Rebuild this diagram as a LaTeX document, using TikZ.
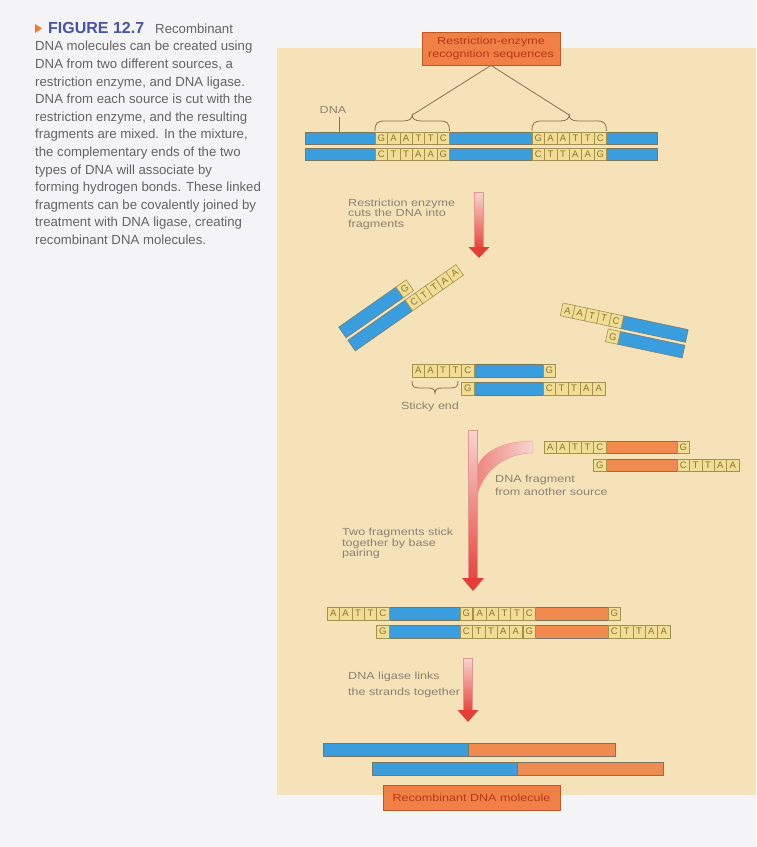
\documentclass[tikz,border=0pt]{standalone}
\usepackage{fontspec}
\setmainfont{Liberation Sans}
\newfontfamily\lblfont[FakeStretch=1.22]{Liberation Sans}
\definecolor{bg}{RGB}{244,244,246}
\definecolor{panel}{RGB}{246,226,185}
\definecolor{dnablue}{RGB}{58,158,222}
\definecolor{dnaorange}{RGB}{240,138,78}
\definecolor{strandedge}{RGB}{120,120,95}
\definecolor{cellfill}{RGB}{242,221,150}
\definecolor{celledge}{RGB}{165,145,75}
\definecolor{celltext}{RGB}{140,118,50}
\definecolor{boxfill}{RGB}{240,128,70}
\definecolor{boxedge}{RGB}{185,90,45}
\definecolor{boxtext}{RGB}{185,55,25}
\definecolor{lbltext}{RGB}{140,130,115}
\definecolor{captext}{RGB}{100,100,100}
\definecolor{figblue}{RGB}{70,85,165}
\definecolor{marker}{RGB}{240,120,50}
\definecolor{arrtop}{RGB}{248,212,208}
\definecolor{arrbot}{RGB}{232,70,60}
\definecolor{arrhead}{RGB}{228,62,52}
\definecolor{arredge}{RGB}{225,150,150}
\definecolor{bracecol}{RGB}{130,115,80}
\tikzset{
  cell/.style={draw=celledge, fill=cellfill, line width=0.6pt, inner sep=0pt,
    minimum width=12.4pt, text=celltext, font=\fontsize{9.5}{10}\selectfont},
  bluestrand/.style={draw=strandedge, fill=dnablue, line width=0.5pt},
  orangestrand/.style={draw=strandedge, fill=dnaorange, line width=0.5pt},
  lbl/.style={inner sep=0pt, text=lbltext, align=left,
    font=\lblfont\fontsize{10.3}{10.5}\selectfont},
  tagbox/.style={draw=boxedge, fill=boxfill, text=boxtext, line width=0.8pt,
    inner sep=0pt, align=center, font=\lblfont\fontsize{10.3}{13}\selectfont},
  bracket/.style={draw=bracecol, line width=0.8pt},
  shaft/.style={top color=arrtop, bottom color=arrbot, draw=arredge, line width=0.4pt},
}
\newcommand\dnacells[5]{%
  \foreach \lt [count=\i from 0] in {#5} {
    \node[cell, minimum height=#4pt] (#1\i) at ({#2+\i*12.4+6.2},{#3+#4/2}) {\lt};
  }}
\begin{document}
\begin{tikzpicture}[x=1pt,y=-1pt]
\useasboundingbox (0,0) rectangle (756,847);
\fill[bg] (0,0) rectangle (756,847);
\fill[panel] (277,48) rectangle (756,795);

% caption
\fill[marker] (35,24) -- (42,28.5) -- (35,33) -- cycle;
\node[anchor=north west, align=left, inner sep=0pt, text=captext,
  font=\fontsize{13.2}{17.6}\selectfont] (caption) at (35,22) {%
\hspace*{13pt}{\fontsize{16}{17.6}\selectfont\bfseries\color{figblue}FIGURE 12.7}\hspace{11pt}Recombinant\\
DNA molecules can be created using\\
DNA from two different sources, a\\
restriction enzyme, and DNA ligase.\\
DNA from each source is cut with the\\
restriction enzyme, and the resulting\\
fragments are mixed. In the mixture,\\
the complementary ends of the two\\
types of DNA will associate by\\
forming hydrogen bonds. These linked\\
fragments can be covalently joined by\\
treatment with DNA ligase, creating\\
recombinant DNA molecules.};

% top box and original DNA
\node[tagbox, minimum width=138pt, minimum height=33pt] (rebox) at (491,48.5)
  {Restriction-enzyme\\recognition sequences};
\draw[bluestrand] (305,132) rectangle (657,144);
\draw[bluestrand] (305,148) rectangle (657,160);
\dnacells{ta}{375}{132}{12}{G,A,A,T,T,C}
\dnacells{tb}{375}{148}{12}{C,T,T,A,A,G}
\dnacells{tc}{532}{132}{12}{G,A,A,T,T,C}
\dnacells{td}{532}{148}{12}{C,T,T,A,A,G}
\coordinate (bl) at (412.2,115);
\coordinate (br) at (569.2,115);
\draw[bracket] (375,131) .. controls (375,123) and (377,121) .. (385,121) -- (403,121)
  .. controls (409,121) and (412.2,119) .. (bl) .. controls (412.2,119) and (415.4,121) .. (421.4,121)
  -- (439.4,121) .. controls (447.4,121) and (449.4,123) .. (449.4,131);
\draw[bracket] (532,131) .. controls (532,123) and (534,121) .. (542,121) -- (560,121)
  .. controls (566,121) and (569.2,119) .. (br) .. controls (569.2,119) and (572.4,121) .. (578.4,121)
  -- (596.4,121) .. controls (604.4,121) and (606.4,123) .. (606.4,131);
\draw[bracket] (rebox.south) -- (bl);
\draw[bracket] (rebox.south) -- (br);
\node[lbl] (dnalbl) at (333,110) {DNA};
\coordinate (dnaend) at (339,132);
\draw[bracket, line width=0.6pt] ([xshift=6pt,yshift=-3pt]dnalbl.south) -- (dnaend);

% arrow 1
\shade[shaft] (474.5,192) rectangle (483.5,248);
\fill[arrhead] (468.5,247) -- (489.5,247) -- (479,258) -- cycle;
\node[lbl, anchor=north west] (lbl1) at (348,198.5)
  {Restriction enzyme\\cuts the DNA into\\fragments};

% left tilted fragment
\begin{scope}[shift={(396,287)}, rotate=35, transform shape]
  \draw[bluestrand] (-70,0) rectangle (0,13);
  \draw[bluestrand] (-70,16) rectangle (0,29);
  \dnacells{la}{0}{0}{13}{G}
  \dnacells{lb}{0}{16}{13}{C,T,T,A,A}
\end{scope}

% right tilted fragment
\begin{scope}[shift={(563,303)}, rotate=-12, transform shape]
  \draw[bluestrand] (62,0) rectangle (128,13);
  \draw[bluestrand] (62,16) rectangle (128,29);
  \dnacells{ra}{0}{0}{13}{A,A,T,T,C}
  \dnacells{rb}{49.6}{16}{13}{G}
\end{scope}

% middle fragment
\draw[bluestrand] (474,364) rectangle (543,377);
\draw[bluestrand] (474,382) rectangle (543,395);
\dnacells{ma}{412}{364}{13}{A,A,T,T,C}
\dnacells{mb}{543}{364}{13}{G}
\dnacells{mc}{461.6}{382}{13}{G}
\dnacells{md}{543}{382}{13}{C,T,T,A,A}
\coordinate (stip) at (435,393);
\draw[bracket] (412,381) .. controls (412,387) and (414,388) .. (420,388) -- (428,388)
  .. controls (432,388) and (435,389) .. (stip) .. controls (435,389) and (438,388) .. (442,388)
  -- (450,388) .. controls (456,388) and (458,387) .. (458,381);
\node[lbl, anchor=base] (sticky) at (430,409) {Sticky end};

% arrow 2 with branch
\shade[left color=arrbot!55!arrtop, right color=arrtop, draw=arredge, line width=0.4pt]
  (533,441) .. controls (503,441) and (482,452) .. (477,468) -- (477,496)
  .. controls (483,471) and (505,453) .. (533,453) -- cycle;
\shade[shaft] (468.5,430) rectangle (477.5,579);
\fill[arrhead] (462,578) -- (484,578) -- (473,591) -- cycle;

% orange fragment
\draw[orangestrand] (606,441) rectangle (677,453);
\draw[orangestrand] (606,459) rectangle (677,471);
\dnacells{oa}{544}{441}{12}{A,A,T,T,C}
\dnacells{ob}{677}{441}{12}{G}
\dnacells{oc}{593.6}{459}{12}{G}
\dnacells{od}{677}{459}{12}{C,T,T,A,A}
\node[lbl, anchor=north west, font=\lblfont\fontsize{10.3}{13.5}\selectfont] (lbl2)
  at (495,474.5) {DNA fragment\\from another source};

\node[lbl, anchor=north west] (lbl3) at (342,528)
  {Two fragments stick\\together by base\\pairing};

% combined
\draw[bluestrand] (389,607) rectangle (460,620);
\draw[orangestrand] (535.5,607) rectangle (608,620);
\draw[bluestrand] (389,625) rectangle (460,638);
\draw[orangestrand] (535.5,625) rectangle (608,638);
\dnacells{ca}{327}{607}{13}{A,A,T,T,C}
\dnacells{cb}{460}{607}{13}{G}
\dnacells{cc}{473.5}{607}{13}{A,A,T,T,C}
\dnacells{cd}{608}{607}{13}{G}
\dnacells{ce}{376.6}{625}{13}{G}
\dnacells{cf}{460}{625}{13}{C,T,T,A,A}
\dnacells{cg}{523.1}{625}{13}{G}
\dnacells{ch}{608}{625}{13}{C,T,T,A,A}

% arrow 3
\shade[shaft] (463.5,658) rectangle (472.5,711);
\fill[arrhead] (457.5,710) -- (478.5,710) -- (468,722) -- cycle;
\node[lbl, anchor=north west, font=\lblfont\fontsize{10.3}{15.7}\selectfont] (lbl4)
  at (348,672) {DNA ligase links\\the strands together};

% recombinant molecule
\draw[bluestrand] (323,743) rectangle (468,756);
\draw[orangestrand] (468,743) rectangle (615,756);
\draw[bluestrand] (372,762) rectangle (517,775);
\draw[orangestrand] (517,762) rectangle (663,775);
\node[tagbox, minimum width=177pt, minimum height=25pt] (rdna) at (471.5,797.5)
  {Recombinant DNA molecule};
\end{tikzpicture}
\end{document}
